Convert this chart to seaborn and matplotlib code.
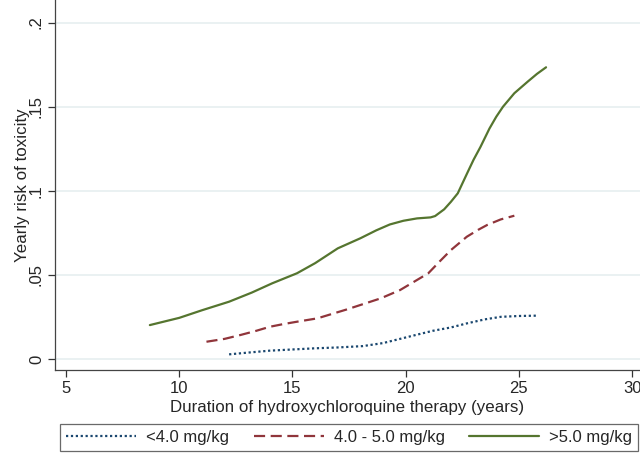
import matplotlib
matplotlib.use("Agg")
import matplotlib.pyplot as plt
import pandas as pd
import seaborn as sns

# ── Data ─────────────────────────────────────────────────────────────────────

low_years = [12.2, 13.0, 14.0, 15.0, 16.0, 17.0, 18.1, 19.0, 19.75, 20.5, 21.2, 22.0, 22.7, 23.5, 24.2, 25.0, 25.8]
low_risk  = [.0028, .0038, .0050, .0057, .0064, .0069, .0077, .0095, .0120, .0145, .0168, .0188, .0212, .0236, .0251, .0256, .0258]

mid_years = [11.2, 12.0, 12.7, 13.4, 14.0, 14.6, 15.2, 16.1, 17.4, 18.9, 19.75, 20.5, 21.0, 21.5, 22.0, 22.7, 23.2, 23.6, 24.2, 24.8]
mid_risk  = [.0103, .0120, .0143, .0168, .0192, .0208, .0222, .0242, .0295, .0361, .0410, .0470, .0510, .0580, .0648, .0727, .0768, .0797, .0830, .0852]

high_years = [8.7, 10.0, 11.0, 12.2, 13.2, 14.1, 15.2, 16.0, 17.0, 18.0, 18.7, 19.3, 19.9, 20.5, 21.1, 21.3, 21.7, 22.0, 22.3, 22.7,
              23.0, 23.3, 23.7, 24.0, 24.3, 24.8, 25.4, 25.8, 26.2]
high_risk  = [.0202, .0245, .0290, .0341, .0395, .0450, .0510, .0570, .0658, .0718, .0765, .0800, .0822, .0836, .0842, .0850, .0890, .0935, .0985, .1100,
              .1185, .1260, .1370, .1440, .1500, .1580, .1650, .1695, .1734]

series_names = ["<4.0 mg/kg", "4.0 - 5.0 mg/kg", ">5.0 mg/kg"]
series_colors = ["#1a476f", "#90353b", "#55752f"]

y_ticks = [0, .05, .1, .15, .2]
y_tick_labels = ["0", ".05", ".1", ".15", ".2"]
x_ticks = [5, 10, 15, 20, 25, 30]


def build_frame():
    rows = []
    for name, xs, ys in zip(series_names,
                            [low_years, mid_years, high_years],
                            [low_risk, mid_risk, high_risk]):
        for x, y in zip(xs, ys):
            rows.append({"years": x, "risk": y, "dose": name})
    return pd.DataFrame(rows)


# ── Plot ─────────────────────────────────────────────────────────────────────

sns.set_theme(style="white")
plt.rcParams["font.family"] = ["Liberation Sans", "DejaVu Sans"]

df = build_frame()

fig = plt.figure(figsize=(6.4, 4.54), dpi=100)
ax = fig.add_axes([55 / 640, 1 - 369.5 / 454, 1 - 55 / 640, 369.5 / 454])

for y in y_ticks:
    ax.axhline(y, color="#e4eeef", lw=1.1, zorder=0)

sns.lineplot(data=df, x="years", y="risk", hue="dose", style="dose",
             hue_order=series_names, style_order=series_names,
             palette=series_colors,
             dashes={series_names[0]: (1, 1.2), series_names[1]: (5, 2.5), series_names[2]: ""},
             sort=False, estimator=None, lw=1.6, ax=ax, legend=False)

ax.set_xlim(4.51, 30.35)
ax.set_ylim(-0.0062, 0.2134)
ax.set_xticks(x_ticks)
ax.set_yticks(y_ticks)
ax.set_yticklabels(y_tick_labels, rotation=90, va="center")
ax.tick_params(axis="both", direction="out", length=5, width=0.9, color="#333333",
               labelsize=12, pad=3, left=True, bottom=True)
for side in ["top", "right"]:
    ax.spines[side].set_visible(False)
for side in ["left", "bottom"]:
    ax.spines[side].set_color("#444444")
    ax.spines[side].set_linewidth(0.9)

ax.set_xlabel("Duration of hydroxychloroquine therapy (years)", fontsize=12.2, labelpad=3)
ax.set_ylabel("Yearly risk of toxicity", fontsize=12.2, labelpad=-1)

handles = ax.lines[-len(series_names):]
leg = fig.legend(handles, series_names, loc="upper left",
                 bbox_to_anchor=(60 / 640, -0.02, 578 / 640, (454 - 424) / 454 + 0.02),
                 mode="expand", ncol=3, fontsize=12, frameon=True, fancybox=False,
                 handlelength=4.2, handletextpad=0.6, borderaxespad=0, borderpad=0.35)
leg.get_frame().set_edgecolor("#444444")
leg.get_frame().set_linewidth(0.9)

fig.savefig("out.png", dpi=100)
